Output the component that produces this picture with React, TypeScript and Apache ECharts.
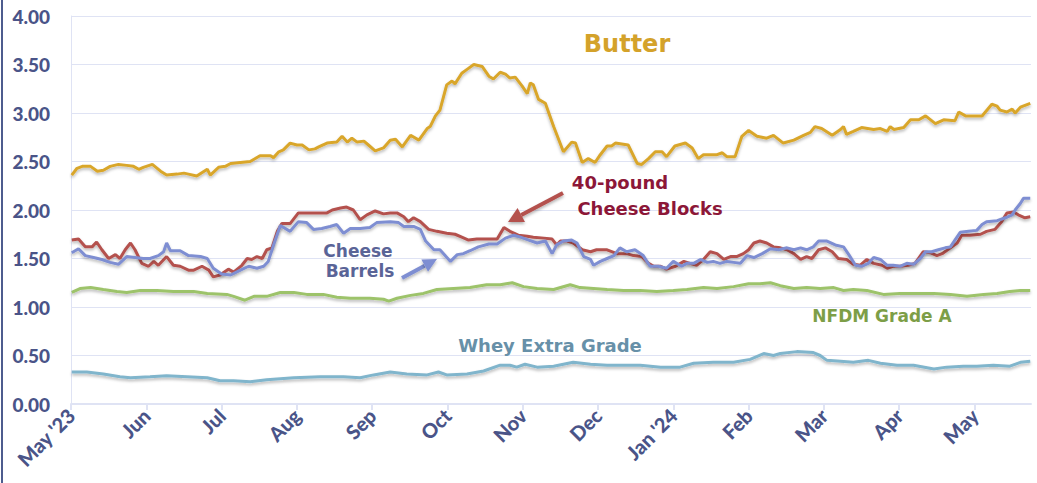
import React, { useEffect, useRef } from "react";
import * as echarts from "echarts";

// x positions are in months since 1 May 2023 (0 = May '23, 12 = May '24)
const monthLabels = ["May '23", "Jun", "Jul", "Aug", "Sep", "Oct", "Nov", "Dec", "Jan '24", "Feb", "Mar", "Apr", "May"];

const butterPos = [0.01,0.08,0.15,0.26,0.35,0.43,0.52,0.63,0.74,0.83,0.90,0.96,1.08,1.19,1.27,1.41,1.50,1.56,1.67,1.81,1.85,1.96,2.05,2.12,2.25,2.38,2.51,2.65,2.69,2.76,2.82,2.91,3.00,3.07,3.16,3.24,3.29,3.40,3.53,3.60,3.67,3.73,3.80,3.89,3.95,4.04,4.15,4.24,4.31,4.40,4.51,4.62,4.73,4.77,4.84,4.90,4.99,5.06,5.10,5.19,5.26,5.35,5.46,5.55,5.61,5.70,5.77,5.83,5.90,5.99,6.06,6.10,6.14,6.21,6.30,6.41,6.54,6.65,6.70,6.79,6.87,6.96,7.03,7.12,7.18,7.23,7.40,7.52,7.58,7.67,7.76,7.85,7.91,8.02,8.16,8.25,8.33,8.40,8.58,8.65,8.71,8.82,8.91,9.00,9.11,9.24,9.33,9.46,9.60,9.73,9.82,9.88,9.97,10.11,10.22,10.26,10.30,10.39,10.50,10.66,10.75,10.84,10.88,10.93,11.06,11.15,11.26,11.35,11.48,11.59,11.74,11.79,11.88,12.10,12.23,12.30,12.34,12.43,12.50,12.54,12.61,12.74];
const butterVal = [2.36,2.43,2.45,2.45,2.40,2.41,2.45,2.47,2.46,2.45,2.42,2.44,2.47,2.40,2.36,2.37,2.38,2.37,2.35,2.42,2.36,2.44,2.45,2.48,2.49,2.50,2.56,2.56,2.54,2.60,2.62,2.69,2.67,2.67,2.62,2.63,2.65,2.69,2.70,2.76,2.70,2.74,2.70,2.71,2.67,2.61,2.64,2.72,2.73,2.65,2.77,2.72,2.84,2.86,2.97,3.03,3.29,3.33,3.30,3.41,3.45,3.50,3.48,3.38,3.35,3.42,3.40,3.36,3.37,3.28,3.20,3.31,3.29,3.14,3.10,2.86,2.60,2.70,2.69,2.49,2.53,2.49,2.57,2.66,2.66,2.69,2.67,2.48,2.47,2.53,2.60,2.60,2.55,2.66,2.69,2.64,2.53,2.57,2.57,2.59,2.55,2.55,2.76,2.82,2.76,2.74,2.77,2.69,2.72,2.77,2.80,2.86,2.84,2.77,2.83,2.86,2.78,2.81,2.85,2.83,2.84,2.81,2.86,2.83,2.85,2.93,2.93,2.97,2.89,2.93,2.92,3.01,2.97,2.97,3.09,3.07,3.03,3.01,3.04,3.00,3.06,3.10];

const blocksPos = [0.01,0.10,0.19,0.28,0.34,0.41,0.50,0.59,0.65,0.72,0.79,0.85,0.94,1.03,1.10,1.16,1.27,1.36,1.45,1.56,1.63,1.74,1.83,1.89,1.98,2.09,2.16,2.27,2.34,2.40,2.47,2.54,2.60,2.67,2.74,2.80,2.91,3.02,3.27,3.40,3.47,3.58,3.66,3.75,3.84,3.93,4.04,4.15,4.24,4.33,4.42,4.48,4.55,4.64,4.75,4.86,4.99,5.10,5.19,5.28,5.39,5.52,5.66,5.75,5.83,5.94,6.06,6.14,6.28,6.39,6.45,6.50,6.59,6.67,6.79,6.90,6.98,7.12,7.25,7.38,7.47,7.58,7.67,7.74,7.83,7.91,8.03,8.14,8.22,8.31,8.40,8.49,8.58,8.67,8.76,8.84,8.93,9.00,9.07,9.15,9.24,9.33,9.42,9.51,9.60,9.69,9.77,9.84,9.93,10.02,10.11,10.19,10.30,10.39,10.48,10.57,10.66,10.77,10.84,10.92,11.01,11.12,11.21,11.32,11.41,11.50,11.57,11.68,11.77,11.83,11.94,12.08,12.16,12.27,12.36,12.43,12.52,12.58,12.67,12.74];
const blocksVal = [1.69,1.70,1.62,1.62,1.67,1.59,1.50,1.54,1.50,1.59,1.66,1.59,1.45,1.42,1.47,1.43,1.52,1.43,1.42,1.38,1.38,1.42,1.38,1.31,1.33,1.39,1.36,1.43,1.50,1.49,1.52,1.50,1.59,1.61,1.78,1.86,1.86,1.97,1.97,1.97,2.00,2.02,2.03,2.00,1.90,1.95,1.99,1.96,1.97,1.97,1.93,1.88,1.92,1.88,1.80,1.78,1.76,1.75,1.72,1.69,1.70,1.70,1.70,1.82,1.78,1.74,1.73,1.72,1.71,1.70,1.64,1.68,1.68,1.66,1.59,1.57,1.59,1.59,1.55,1.55,1.53,1.52,1.45,1.42,1.42,1.39,1.42,1.47,1.45,1.43,1.49,1.57,1.55,1.49,1.52,1.52,1.55,1.59,1.66,1.68,1.66,1.62,1.61,1.59,1.55,1.49,1.52,1.50,1.59,1.61,1.57,1.50,1.49,1.44,1.43,1.49,1.45,1.43,1.40,1.42,1.42,1.43,1.45,1.57,1.56,1.53,1.55,1.61,1.66,1.74,1.74,1.75,1.78,1.80,1.88,1.97,1.98,1.95,1.92,1.93];

const barrelsPos = [0.01,0.10,0.19,0.30,0.41,0.52,0.63,0.74,0.85,0.96,1.05,1.16,1.23,1.27,1.32,1.45,1.56,1.72,1.81,1.89,2.00,2.12,2.25,2.36,2.47,2.56,2.62,2.69,2.78,2.91,3.02,3.13,3.22,3.33,3.44,3.53,3.62,3.71,3.84,3.97,4.06,4.24,4.35,4.42,4.55,4.64,4.71,4.82,4.90,5.04,5.13,5.21,5.30,5.41,5.55,5.66,5.77,5.88,5.97,6.08,6.19,6.30,6.39,6.45,6.54,6.65,6.72,6.81,6.90,6.94,7.03,7.12,7.21,7.29,7.38,7.49,7.60,7.69,7.80,7.91,8.00,8.11,8.18,8.27,8.36,8.45,8.53,8.62,8.71,8.80,8.89,8.98,9.07,9.18,9.29,9.40,9.51,9.60,9.69,9.77,9.86,9.93,10.04,10.15,10.26,10.33,10.42,10.50,10.59,10.66,10.75,10.84,10.92,11.01,11.10,11.19,11.28,11.35,11.43,11.52,11.61,11.68,11.74,11.81,11.92,12.03,12.10,12.16,12.30,12.41,12.50,12.54,12.61,12.65,12.74];
const barrelsVal = [1.56,1.60,1.53,1.51,1.49,1.46,1.44,1.52,1.51,1.50,1.50,1.53,1.57,1.66,1.58,1.58,1.53,1.52,1.50,1.40,1.34,1.33,1.38,1.42,1.40,1.42,1.47,1.64,1.84,1.78,1.88,1.87,1.80,1.81,1.83,1.85,1.76,1.81,1.81,1.82,1.87,1.88,1.87,1.83,1.83,1.80,1.68,1.59,1.59,1.47,1.54,1.55,1.58,1.62,1.65,1.65,1.71,1.74,1.72,1.69,1.66,1.68,1.55,1.64,1.68,1.69,1.66,1.52,1.49,1.43,1.47,1.50,1.53,1.61,1.57,1.59,1.53,1.42,1.42,1.40,1.47,1.42,1.45,1.45,1.49,1.46,1.47,1.45,1.47,1.46,1.45,1.53,1.51,1.55,1.60,1.59,1.61,1.59,1.61,1.59,1.62,1.68,1.68,1.64,1.62,1.54,1.43,1.42,1.45,1.51,1.49,1.43,1.43,1.42,1.45,1.44,1.50,1.57,1.57,1.59,1.61,1.62,1.69,1.77,1.78,1.79,1.85,1.88,1.89,1.92,1.95,2.00,2.07,2.12,2.12];

const nfdmPos = [0.01,0.12,0.26,0.43,0.61,0.74,0.92,1.14,1.36,1.63,1.81,2.07,2.16,2.31,2.43,2.60,2.78,2.96,3.13,3.35,3.53,3.71,3.97,4.15,4.22,4.33,4.51,4.68,4.86,5.08,5.30,5.52,5.70,5.86,6.01,6.19,6.41,6.63,6.76,6.94,7.12,7.34,7.56,7.78,8.00,8.18,8.40,8.58,8.80,9.00,9.15,9.29,9.42,9.60,9.77,9.95,10.13,10.26,10.39,10.57,10.79,11.01,11.23,11.46,11.68,11.90,12.12,12.30,12.47,12.61,12.74];
const nfdmVal = [1.15,1.19,1.20,1.18,1.16,1.15,1.17,1.17,1.16,1.16,1.14,1.13,1.11,1.07,1.11,1.11,1.15,1.15,1.13,1.13,1.10,1.09,1.09,1.08,1.06,1.09,1.12,1.14,1.18,1.19,1.20,1.23,1.23,1.25,1.21,1.19,1.18,1.23,1.20,1.19,1.18,1.17,1.17,1.16,1.17,1.18,1.20,1.19,1.21,1.24,1.24,1.25,1.22,1.19,1.20,1.19,1.20,1.17,1.18,1.17,1.13,1.14,1.14,1.14,1.13,1.11,1.13,1.14,1.16,1.17,1.17];

const wheyPos = [0.01,0.21,0.43,0.65,0.79,1.05,1.27,1.54,1.81,1.98,2.16,2.38,2.60,2.96,3.31,3.62,3.84,4.02,4.24,4.46,4.73,4.88,4.99,5.26,5.48,5.70,5.83,5.92,6.03,6.19,6.41,6.67,6.90,7.12,7.34,7.56,7.83,8.09,8.27,8.53,8.80,9.02,9.20,9.33,9.42,9.64,9.86,9.95,10.04,10.22,10.39,10.59,10.75,10.97,11.19,11.46,11.63,11.85,12.03,12.25,12.47,12.61,12.74];
const wheyVal = [0.33,0.33,0.31,0.28,0.27,0.28,0.29,0.28,0.27,0.24,0.24,0.23,0.25,0.27,0.28,0.28,0.27,0.30,0.33,0.31,0.30,0.33,0.30,0.31,0.34,0.40,0.40,0.38,0.41,0.38,0.39,0.43,0.41,0.40,0.40,0.40,0.38,0.38,0.42,0.43,0.43,0.46,0.52,0.50,0.52,0.54,0.53,0.50,0.45,0.44,0.43,0.45,0.42,0.40,0.40,0.36,0.38,0.39,0.39,0.40,0.39,0.43,0.44];

const pair = (xs: number[], ys: number[]) => xs.map((x, i) => [x, ys[i]]);

const AXIS_TEXT = "#4a5488";
const GRID_COLOR = "#dfe3f4";
const TXT_FONT = '"DejaVu Sans", sans-serif';

function arrow(tail: [number, number], tip: [number, number], color: string, headLen: number, headHalf: number) {
  const dx = tip[0] - tail[0];
  const dy = tip[1] - tail[1];
  const len = Math.sqrt(dx * dx + dy * dy);
  const ux = dx / len, uy = dy / len;
  const bx = tip[0] - ux * headLen, by = tip[1] - uy * headLen;
  const nx = -uy, ny = ux;
  return [
    {
      type: "line",
      shape: { x1: tail[0], y1: tail[1], x2: bx, y2: by },
      style: { stroke: color, lineWidth: 4, shadowBlur: 3, shadowColor: "rgba(0,0,0,0.3)", shadowOffsetY: 2 },
      z: 10,
    },
    {
      type: "polygon",
      shape: { points: [[tip[0], tip[1]], [bx + nx * headHalf, by + ny * headHalf], [bx - nx * headHalf, by - ny * headHalf]] },
      style: { fill: color, shadowBlur: 3, shadowColor: "rgba(0,0,0,0.3)", shadowOffsetY: 2 },
      z: 10,
    },
  ];
}

function label(text: string, x: number, y: number, color: string, size: number) {
  return {
    type: "text",
    x,
    y,
    z: 10,
    style: {
      text,
      fill: color,
      font: `bold ${size}px ${TXT_FONT}`,
      align: "center",
      verticalAlign: "middle",
      shadowBlur: 3,
      shadowColor: "rgba(0,0,0,0.35)",
      shadowOffsetX: 1,
      shadowOffsetY: 2,
    },
  };
}

export default function App() {
  const ref = useRef<HTMLDivElement>(null);

  useEffect(() => {
    document.body.style.margin = "0";
    if (!ref.current) return;
    const chart = echarts.init(ref.current, undefined, { renderer: "svg" });

    const lineSeries = (name: string, data: number[][], color: string) => ({
      name,
      type: "line",
      data,
      showSymbol: false,
      symbol: "none",
      lineStyle: {
        color,
        width: 3,
        shadowBlur: 3,
        shadowColor: "rgba(0,0,0,0.28)",
        shadowOffsetY: 2,
      },
      itemStyle: { color },
    });

    chart.setOption({
      animation: false,
      backgroundColor: "#ffffff",
      grid: { left: 71, right: 6, top: 16, bottom: 79 },
      xAxis: {
        type: "value",
        min: 0,
        max: 12.75,
        interval: 1,
        splitLine: { show: false },
        axisLine: { show: true, lineStyle: { color: GRID_COLOR, width: 2 } },
        axisTick: {
          show: true,
          length: 6,
          customValues: monthLabels.map((_, i) => i),
          lineStyle: { color: GRID_COLOR, width: 2 },
        },
        axisLabel: {
          rotate: 45,
          margin: 8,
          customValues: monthLabels.map((_, i) => i),
          formatter: (v: number) => (Number.isInteger(v) && monthLabels[v] ? monthLabels[v] : ""),
          color: AXIS_TEXT,
          fontWeight: 900,
          fontSize: 20,
          fontFamily: "Lato, sans-serif",
        },
      },
      yAxis: {
        type: "value",
        min: 0,
        max: 4,
        interval: 0.5,
        axisLine: { show: true, lineStyle: { color: GRID_COLOR, width: 1 } },
        axisTick: { show: false },
        splitLine: { lineStyle: { color: GRID_COLOR, width: 1 } },
        axisLabel: {
          margin: 21,
          formatter: (v: number) => v.toFixed(2),
          color: AXIS_TEXT,
          fontWeight: 900,
          fontSize: 19,
          fontFamily: "Lato, sans-serif",
        },
      },
      series: [
        lineSeries("Whey Extra Grade", pair(wheyPos, wheyVal), "#80b5cc"),
        lineSeries("NFDM Grade A", pair(nfdmPos, nfdmVal), "#9dc36b"),
        lineSeries("Butter", pair(butterPos, butterVal), "#d9a62c"),
        lineSeries("40-pound Cheese Blocks", pair(blocksPos, blocksVal), "#b4514e"),
        lineSeries("Cheese Barrels", pair(barrelsPos, barrelsVal), "#7e8ed2"),
      ],
      graphic: [
        { type: "rect", shape: { x: 1, y: 0, width: 2, height: 483 }, style: { fill: "#4d5c8e" }, z: 10 },
        label("Butter", 627, 44, "#d4a22a", 24),
        label("40-pound", 620, 182, "#8c1738", 18),
        label("Cheese Blocks", 650, 208, "#8c1738", 18),
        label("Cheese", 358, 251, "#5a6497", 17),
        label("Barrels", 360, 271, "#5a6497", 17),
        label("NFDM Grade A", 882, 316, "#7d9e47", 17),
        label("Whey Extra Grade", 550, 345, "#6790a8", 18),
        ...arrow([563, 193], [508, 222], "#b4514e", 15, 8),
        ...arrow([402, 278], [437, 259], "#7e8ed2", 14, 7),
      ],
    });

    return () => chart.dispose();
  }, []);

  return <div ref={ref} style={{ width: 1037, height: 483 }} />;
}
